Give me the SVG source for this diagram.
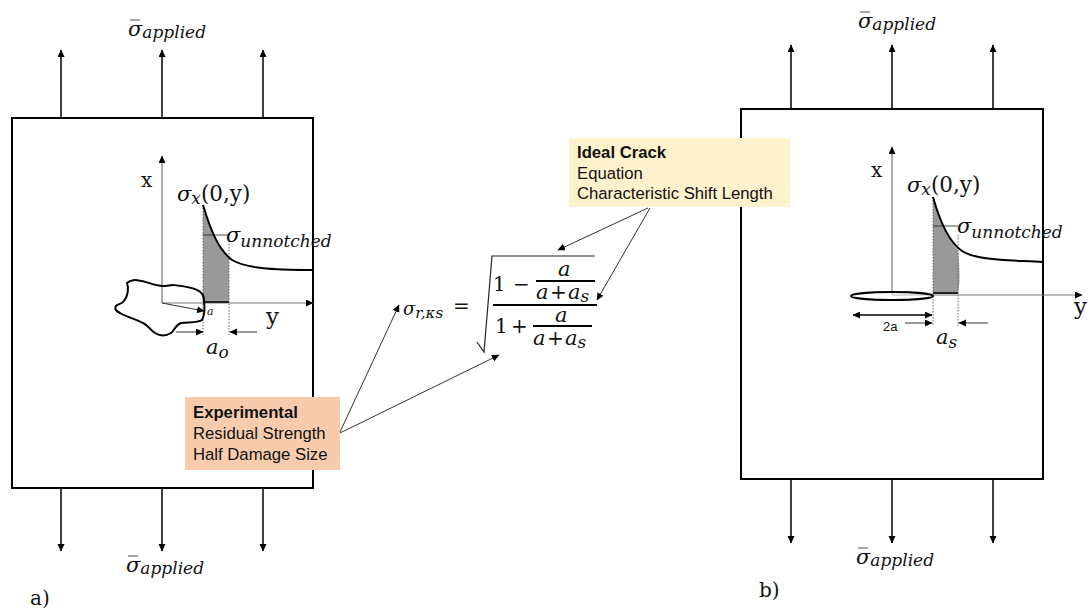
<svg xmlns="http://www.w3.org/2000/svg" width="1090" height="613" viewBox="0 0 1090 613">
<style>
.plate{fill:#fff;stroke:#000;stroke-width:2}
.ar{stroke:#000;stroke-width:1.5;fill:none;marker-end:url(#h)}
.thin{stroke:#333;stroke-width:1;fill:none;marker-end:url(#h)}
.axis{stroke:#777;stroke-width:1.2;fill:none;marker-end:url(#h)}
.curve{stroke:#000;stroke-width:2;fill:none}
.dot{stroke:#666;stroke-width:1;stroke-dasharray:1.5 1.5;fill:none}
.hair{stroke:#222;stroke-width:.8;fill:none}
.bar{stroke:#000;stroke-width:1.8}
.gray{fill:#999}
text{font-family:"DejaVu Serif","Liberation Serif",serif;fill:#111}
.m{font-style:italic;font-size:21px}
.n{font-size:20px}
.p{font-size:21.5px;font-style:normal}
.sub{font-size:17px}
.lab{font-family:"Liberation Sans",Arial,sans-serif;font-size:16.7px;fill:#111}
.b{font-weight:bold}
</style>
<defs>
<marker id="h" markerWidth="8" markerHeight="8" refX="7" refY="3.5" orient="auto" markerUnits="userSpaceOnUse"><path d="M0 0L7.5 3.5L0 7z" fill="#000"/></marker>
<marker id="s" markerWidth="8" markerHeight="8" refX="0.5" refY="3.5" orient="auto" markerUnits="userSpaceOnUse"><path d="M7.5 0L0 3.5L7.5 7z" fill="#000"/></marker>
</defs>

<g id="plate-a">
<rect class="plate" x="12" y="118" width="301" height="370"/>
<path class="gray" d="M203 208C210 232 218 248 229 258V302H203Z"/>
<path class="dot" d="M203 205V335M229 238V335"/>
<path class="hair" d="M203 235H228"/>
<path class="axis" d="M162 303V156"/>
<path class="axis" d="M162 303H313"/>
<path class="curve" d="M203 205C211 232 219 250 232 260C246 268 270 270 313 270"/>
<path d="M203 302H229" stroke="#222" stroke-width="2"/>
<path class="curve" d="M127 283C131 279 136 280 142 281C150 283 156 286 163 286C167 286 170 285 173 285C182 286 192 287 197 290C202 292 204 296 204 301C205 308 204 316 202 320C198 323 188 322 181 323C175 325 175 330 171 333C166 336 160 336 155 333C150 330 148 325 143 323C135 319 127 317 120 313C116 311 114 309 116 306C118 304 122 304 124 301C128 296 129 288 127 283Z"/>
<path class="thin" d="M162 303L204 311"/>
<path class="thin" d="M176 332H203"/>
<path class="thin" d="M257 332H230"/>
<text class="m" x="207" y="315" style="font-size:11px">a</text>
<text class="n" x="141" y="187">x</text>
<text class="n" x="266" y="324" style="font-size:23px">y</text>
<text class="m" x="177" y="201">σ<tspan class="sub" dy="3">x</tspan><tspan class="p" dy="-3">(0,y)</tspan></text>
<text class="m" x="226" y="242">σ<tspan class="sub" dy="5">unnotched</tspan></text>
<text class="m" x="206" y="354">a<tspan class="sub" dy="4">o</tspan></text>
</g>

<g id="plate-b">
<rect class="plate" x="741" y="109" width="302" height="370"/>
<path class="gray" d="M933 199C939 222 948 240 958 250C960 270 960 285 958 293H933Z"/>
<path class="dot" d="M933 197V326M958 235V326"/>
<path class="hair" d="M933 226H958"/>
<path class="axis" d="M892 295V147"/>
<path class="axis" d="M892 295H1082"/>
<path class="curve" d="M933 197C940 222 950 243 962 251C978 261 1010 260 1043 262"/>
<path d="M933 293H958" stroke="#222" stroke-width="2"/>
<ellipse cx="892" cy="296" rx="41" ry="4" fill="#fff" fill-opacity=".5" stroke="#000" stroke-width="2"/>
<path class="ar" d="M853 315H932" marker-start="url(#s)"/>
<path class="thin" d="M905 323H932"/>
<path class="thin" d="M988 323H959"/>
<text x="883" y="331" style="font-family:'Liberation Sans',sans-serif;font-size:13px">2a</text>
<text class="n" x="871" y="177">x</text>
<text class="n" x="1074" y="314" style="font-size:23px">y</text>
<text class="m" x="907" y="192">σ<tspan class="sub" dy="3">x</tspan><tspan class="p" dy="-3">(0,y)</tspan></text>
<text class="m" x="957" y="233">σ<tspan class="sub" dy="5">unnotched</tspan></text>
<text class="m" x="936" y="344">a<tspan class="sub" dy="4">s</tspan></text>
</g>

<g id="load-arrows">
<path class="ar" d="M61 118V50"/><path class="ar" d="M162 118V50"/><path class="ar" d="M263 118V50"/>
<path class="ar" d="M61 488V551"/><path class="ar" d="M162 488V551"/><path class="ar" d="M263 488V551"/>
<path class="ar" d="M791 109V45"/><path class="ar" d="M892 109V45"/><path class="ar" d="M993 109V45"/>
<path class="ar" d="M791 479V543"/><path class="ar" d="M892 479V543"/><path class="ar" d="M993 479V543"/>
</g>

<g id="applied-labels">
<path class="hair" d="M130 20H140M128 556H138M860 12H870M858 548H868"/>
<text class="m" x="128" y="36">σ<tspan class="sub" dy="2">applied</tspan></text>
<text class="m" x="126" y="572">σ<tspan class="sub" dy="2">applied</tspan></text>
<text class="m" x="858" y="28">σ<tspan class="sub" dy="2">applied</tspan></text>
<text class="m" x="856" y="564">σ<tspan class="sub" dy="2">applied</tspan></text>
</g>

<g id="equation">
<text class="m" x="403" y="315" style="font-size:18px">σ<tspan dy="3" style="font-size:15px">r,κs</tspan></text>
<text class="n" x="453" y="313">=</text>
<path d="M477 342L484 352L492 256H595" fill="none" stroke="#222" stroke-width="1.2"/>
<path class="bar" d="M493 305H597M536 281H595M533 326H592"/>
<text class="n" x="493" y="291">1</text>
<text class="n" x="513" y="291">−</text>
<text class="m" x="558" y="276">a</text>
<text class="m" x="536" y="299">a</text>
<text class="n" x="550" y="299">+</text>
<text class="m" x="568" y="299">a<tspan class="sub" dy="3">s</tspan></text>
<text class="n" x="495" y="333">1</text>
<text class="n" x="511" y="333">+</text>
<text class="m" x="555" y="322">a</text>
<text class="m" x="533" y="345">a</text>
<text class="n" x="547" y="345">+</text>
<text class="m" x="565" y="345">a<tspan class="sub" dy="3">s</tspan></text>
</g>

<g id="box-experimental">
<rect x="185" y="397" width="155" height="73" fill="#f7cbac"/>
<text class="lab b" x="193" y="418">Experimental</text>
<text class="lab" x="193" y="439">Residual Strength</text>
<text class="lab" x="193" y="460">Half Damage Size</text>
</g>

<g id="box-ideal-crack">
<rect x="569" y="138" width="221" height="69" fill="#fff2cc"/>
<text class="lab b" x="577" y="158">Ideal Crack</text>
<text class="lab" x="577" y="179">Equation</text>
<text class="lab" x="577" y="199">Characteristic Shift Length</text>
</g>

<g id="connectors">
<path class="thin" d="M340 432L399 305"/>
<path class="thin" d="M340 433L499 355"/>
<path class="thin" d="M648 208L558 250"/>
<path class="thin" d="M650 208L597 300"/>
</g>

<g id="panel-labels">
<text class="n" x="30" y="605">a)</text>
<text class="n" x="759" y="597">b)</text>
</g>
</svg>
